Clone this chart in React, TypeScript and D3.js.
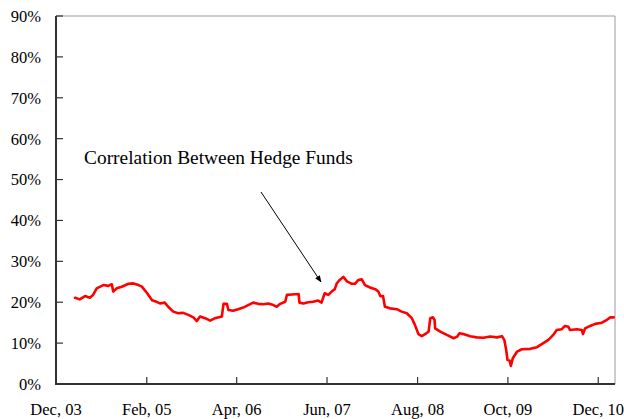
import React from "react";
import * as d3 from "d3";

const dates: string[] = [
  "2004-02-29","2004-03-22","2004-04-16","2004-05-09","2004-05-24","2004-06-10","2004-07-11","2004-08-04","2004-08-20","2004-08-27",
  "2004-09-13","2004-10-06","2004-11-07","2004-11-30","2004-12-24","2005-01-09","2005-02-03","2005-02-26","2005-03-19","2005-04-04",
  "2005-04-27","2005-05-13","2005-06-06","2005-06-29","2005-07-23","2005-08-16","2005-09-09","2005-09-25","2005-10-10","2005-11-03",
  "2005-11-27","2005-12-20","2006-01-21","2006-01-29","2006-02-14","2006-02-21","2006-03-15","2006-04-08","2006-05-02","2006-05-25",
  "2006-06-18","2006-07-12","2006-08-05","2006-08-28","2006-09-21","2006-10-07","2006-10-23","2006-11-16","2006-11-24","2006-12-17",
  "2007-01-18","2007-01-22","2007-02-10","2007-03-04","2007-03-27","2007-04-20","2007-05-06","2007-05-21","2007-06-07","2007-06-23",
  "2007-07-08","2007-07-16","2007-07-28","2007-08-17","2007-09-03","2007-09-26","2007-10-11","2007-10-26","2007-11-12","2007-11-27",
  "2007-12-21","2008-01-14","2008-01-29","2008-02-07","2008-02-20","2008-02-29","2008-03-24","2008-04-25","2008-05-18","2008-06-11",
  "2008-07-05","2008-07-20","2008-08-05","2008-08-21","2008-09-11","2008-09-22","2008-09-30","2008-10-12","2008-10-20","2008-10-23",
  "2008-11-16","2008-12-17","2009-01-18","2009-02-04","2009-02-15","2009-03-05","2009-04-06","2009-05-07","2009-06-08","2009-07-09",
  "2009-08-10","2009-09-03","2009-09-14","2009-09-23","2009-09-29","2009-10-09","2009-10-15","2009-10-24","2009-11-13","2009-12-06",
  "2010-01-15","2010-02-15","2010-03-17","2010-04-10","2010-05-03","2010-05-19","2010-06-12","2010-06-27","2010-07-13","2010-07-21",
  "2010-08-22","2010-09-15","2010-09-20","2010-09-30","2010-10-24","2010-11-17","2010-12-18","2011-01-11","2011-01-27","2011-02-12"
];

const correlation: number[] = [
  21.1,20.7,21.5,21.1,21.8,23.4,24.2,24.0,24.4,22.6,
  23.4,23.8,24.5,24.6,24.2,23.8,22.2,20.5,20.1,19.7,
  19.9,18.9,17.7,17.3,17.4,16.9,16.3,15.4,16.5,16.1,
  15.5,16.1,16.5,19.6,19.6,18.1,17.9,18.3,18.7,19.3,
  19.9,19.6,19.5,19.7,19.3,18.9,19.6,20.1,21.8,21.9,
  22.0,19.9,19.7,20.0,20.1,20.4,19.9,22.2,21.8,22.6,
  23.2,24.5,25.3,26.2,25.1,24.5,24.5,25.4,25.6,24.2,
  23.6,23.2,22.6,21.5,21.5,18.9,18.5,18.3,17.7,17.3,
  16.1,14.4,12.2,11.7,12.4,12.8,16.1,16.3,15.7,13.6,
  12.8,12.0,11.2,11.6,12.4,12.2,11.7,11.4,11.3,11.6,
  11.4,11.7,10.8,8.3,5.9,5.7,4.4,6.3,7.9,8.5,
  8.6,9.0,10.0,10.8,12.0,13.2,13.4,14.2,14.0,13.2,
  13.4,13.2,12.2,13.6,14.2,14.7,15.0,15.7,16.3,16.3
];

const xTickDates: string[] = ["2003-12-01","2005-02-01","2006-04-01","2007-06-01","2008-08-01","2009-10-01","2010-12-01"];
const xTickLabels: string[] = ["Dec, 03","Feb, 05","Apr, 06","Jun, 07","Aug, 08","Oct, 09","Dec, 10"];
const yTicks: number[] = [0,10,20,30,40,50,60,70,80,90];
const annotationLabel = "Correlation Between Hedge Funds";

const W = 624, H = 419;
const L = 56, R = 615, T = 16, B = 384;
const FONT = "'Liberation Serif', 'Times New Roman', serif";

export default function App() {
  const parse = d3.timeParse("%Y-%m-%d");
  const x = d3.scaleTime()
    .domain([parse("2003-12-01")!, parse("2011-02-18")!])
    .range([L, R]);
  const y = d3.scaleLinear().domain([0, 90]).range([B, T]);

  const pts = dates.map((d, i) => ({ d: parse(d)!, v: correlation[i] }));
  const line = d3.line<{ d: Date; v: number }>()
    .x(p => x(p.d))
    .y(p => y(p.v));

  return (
    <svg width={W} height={H} style={{ position: "absolute", left: 0, top: 0, background: "#fff" }}>
      <defs>
        <marker id="arr" viewBox="0 0 10 10" refX="9" refY="5" markerWidth="7" markerHeight="7" orient="auto">
          <path d="M0,1 L10,5 L0,9 z" fill="#000" />
        </marker>
      </defs>
      <rect x={0} y={0} width={W} height={H} fill="#fff" />
      <line x1={L} y1={T} x2={R} y2={T} stroke="#9a9a9a" strokeWidth={1} />
      <line x1={R} y1={T} x2={R} y2={B} stroke="#9a9a9a" strokeWidth={1} />
      <line x1={L} y1={T} x2={L} y2={B + 1} stroke="#333" strokeWidth={2} />
      {yTicks.map(t => (
        <g key={t}>
          <line x1={L} x2={L + 7} y1={y(t)} y2={y(t)} stroke="#333" strokeWidth={1.2} />
          <text x={41} y={y(t)} dy="0.36em" textAnchor="end" fontFamily={FONT} fontSize={16.5} fill="#000">
            {t}%
          </text>
        </g>
      ))}
      <line x1={L - 1} y1={B} x2={R} y2={B} stroke="#333" strokeWidth={2} />
      {xTickDates.map((d, i) => {
        const xx = x(parse(d)!);
        return (
          <g key={d}>
            <line x1={xx} x2={xx} y1={B} y2={B - 7} stroke="#333" strokeWidth={1.2} />
            <text x={xx} y={415} textAnchor="middle" fontFamily={FONT} fontSize={16.5} fill="#000">
              {xTickLabels[i]}
            </text>
          </g>
        );
      })}
      <path d={line(pts) || ""} fill="none" stroke="#ff0000" strokeWidth={2.6} strokeLinejoin="round" strokeLinecap="round" />
      <text x={84} y={164} fontFamily={FONT} fontSize={19.4} fill="#000">{annotationLabel}</text>
      <line x1={261} y1={192} x2={321} y2={282} stroke="#000" strokeWidth={1} markerEnd="url(#arr)" />
    </svg>
  );
}
